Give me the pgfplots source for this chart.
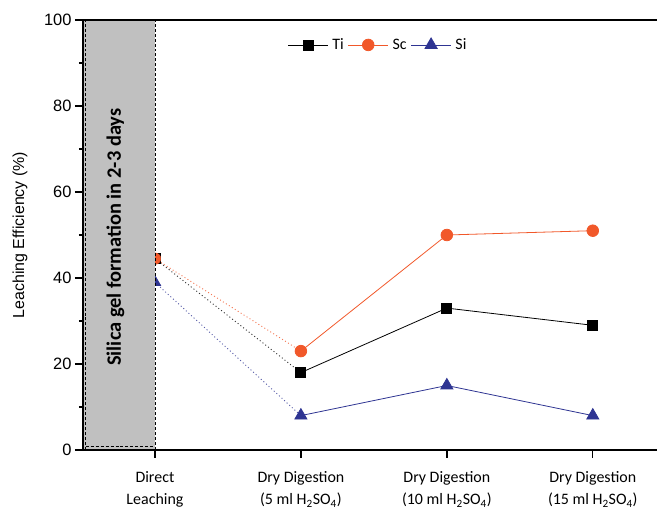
\documentclass[border=0pt]{standalone}
\usepackage{fontspec}
\setmainfont{Carlito}
\newfontfamily\arialfont{Liberation Sans}
\usepackage{pgfplots}
\pgfplotsset{compat=1.18}
\definecolor{scorange}{RGB}{241,88,42}
\definecolor{siblue}{RGB}{46,52,146}
\definecolor{gelgray}{RGB}{192,192,192}
\begin{document}
\begin{tikzpicture}
\begin{axis}[
  set layers,
  scale only axis,
  width=574bp, height=430bp,
  xmin=-0.493, xmax=3.44,
  ymin=0, ymax=100,
  axis x line*=box, axis y line*=left,
  axis line style={line width=1.6bp},
  xtick={0,1,2,3},
  xticklabels={{Direct\\Leaching},{Dry Digestion\\(5 ml H\textsubscript{2}SO\textsubscript{4})},{Dry Digestion\\(10 ml H\textsubscript{2}SO\textsubscript{4})},{Dry Digestion\\(15 ml H\textsubscript{2}SO\textsubscript{4})}},
  xticklabel style={align=center, font=\fontsize{16}{22}\selectfont, yshift=-10bp},
  ytick={0,20,40,60,80,100},
  minor ytick={10,30,50,70,90},
  yticklabel style={font=\arialfont\fontsize{16.5}{19}\selectfont},
  /pgf/number format/assume math mode=true,
  xtick pos=bottom, ytick pos=left,
  tick align=outside,
  major tick length=8bp, minor tick length=4bp,
  tick style={line width=1.4bp, black},
  ylabel={Leaching Efficiency (\%)},
  ylabel style={font=\arialfont\fontsize{16}{19}\selectfont, at={(axis description cs:-0.1098,0.5)}, anchor=center},
  legend style={draw=none, fill=none, at={(0.514,0.942)}, anchor=center, legend columns=3, font=\fontsize{16}{19}\selectfont, column sep=2bp},
  legend image code/.code={\draw[mark repeat=2, mark phase=2] plot coordinates {(0bp,0bp) (20bp,0bp) (40bp,0bp)};},
  clip=true,
]
\addplot[black, line width=0.8bp, mark=square*, mark size=5bp, mark options={solid}] coordinates {(1,18) (2,33) (3,29)};
\addlegendentry{Ti}
\addplot[scorange, line width=0.8bp, mark=*, mark size=5.8bp, mark options={solid}] coordinates {(1,23) (2,50) (3,51)};
\addlegendentry{Sc}
\addplot[siblue, line width=0.8bp, mark=triangle*, mark size=7bp, mark options={solid}] coordinates {(1,8) (2,15) (3,8)};
\addlegendentry{Si}
% dotted segments from direct leaching
\addplot[black!80, dash pattern=on 1bp off 2.5bp, line width=0.9bp, forget plot] coordinates {(0,44.5) (1,18)};
\addplot[scorange!80, dash pattern=on 1bp off 2.5bp, line width=0.9bp, forget plot] coordinates {(0,44.5) (1,23)};
\addplot[siblue!80, dash pattern=on 1bp off 2.5bp, line width=0.9bp, forget plot] coordinates {(0,39) (1,8)};
% direct leaching points
\addplot[black, only marks, mark=square*, mark size=5bp, forget plot] coordinates {(0,44.5)};
\addplot[scorange, only marks, mark=*, mark size=5.8bp, forget plot] coordinates {(0,44.5)};
\addplot[siblue, only marks, mark=triangle*, mark size=7bp, forget plot] coordinates {(0,39)};
% gel region
\begin{pgfonlayer}{axis foreground}
\fill[gelgray] (axis cs:-0.493,0) rectangle (axis cs:0,100);
\draw[densely dashed, line width=0.6bp] (axis cs:0,0) -- (axis cs:0,100);
\draw[densely dashed, line width=0.6bp] (axis cs:-0.475,0.8) -- (axis cs:0,0.8);
\draw[densely dashed, line width=0.6bp] (axis cs:-0.475,0) -- (axis cs:-0.475,100);
\draw[line width=1.6bp] (axis cs:-0.493,0) -- (axis cs:-0.493,100);
\draw[line width=1.6bp] (axis cs:-0.493,100) -- (axis cs:0,100);
\draw[line width=1.6bp] (axis cs:-0.493,0) -- (axis cs:0,0);
\node[rotate=90, font=\bfseries\fontsize{20.5}{24}\selectfont] at (axis cs:-0.27,49.5) {Silica gel formation in 2-3 days};
\end{pgfonlayer}
\coordinate (bl) at (rel axis cs:0,0);
\coordinate (tr) at (rel axis cs:1,1);
\end{axis}
\pgfresetboundingbox
\path[use as bounding box] ([shift={(-83bp,-57bp)}]bl) rectangle ([shift={(0bp,20bp)}]tr);
\end{tikzpicture}
\end{document}
